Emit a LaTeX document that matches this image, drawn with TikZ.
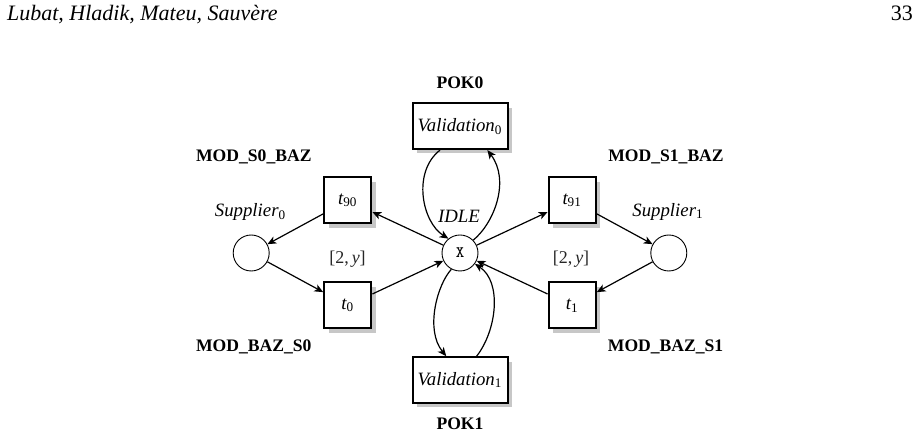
\documentclass[tikz,border=0pt]{standalone}
\usepackage{fontspec}
\setmainfont{Liberation Serif}
\usetikzlibrary{arrows.meta,shadows}

% upright index set as a subscript
\newcommand{\lowidx}[1]{\textsubscript{\upshape #1}}

\begin{document}
\begin{tikzpicture}[x=0.5pt,y=-0.5pt,
  trans/.style={draw, line width=1pt, fill=white, inner sep=0pt,
    drop shadow={shadow xshift=2.2pt, shadow yshift=-2.2pt, opacity=1, fill=black!22},
    font=\fontsize{9.4}{11}\selectfont\itshape},
  smallbox/.style={trans, minimum width=23.6pt, minimum height=23pt},
  widebox/.style={trans, minimum width=47.5pt, minimum height=22.8pt},
  placenode/.style={draw, circle, line width=0.45pt, minimum size=18pt, inner sep=0pt,
    font=\fontsize{8}{9}\selectfont\ttfamily},
  flow/.style={line width=0.6pt, -{Stealth[length=4.4pt, width=3.8pt, inset=1.2pt]}},
  lab/.style={anchor=base, inner sep=0pt, font=\fontsize{8.8}{10}\selectfont\bfseries},
  ilab/.style={anchor=base, inner sep=0pt, font=\fontsize{9.4}{11}\selectfont\itshape},
  wlab/.style={anchor=base, inner sep=0pt, font=\fontsize{9}{11}\selectfont, text=black!85},
]
\useasboundingbox (0,0) rectangle (918,437);

% running head
\node[anchor=base west, inner sep=0pt, font=\fontsize{11}{13}\selectfont\itshape]
  (hdr) at (6.7,20.7) {Lubat, Hladik, Mateu, Sauvère};
\node[anchor=base east, inner sep=0pt, font=\fontsize{11}{13}\selectfont]
  (pg) at (913.3,20.7) {33};

% places
\node[placenode] (x)  at (460,253)   {X};
\node[placenode] (s0) at (251.2,253) {};
\node[placenode] (s1) at (668.8,253) {};

% transitions
\node[widebox]  (val0) at (460,126.3) {Validation\lowidx{0}};
\node[widebox]  (val1) at (460,380)   {Validation\lowidx{1}};
\node[smallbox] (t90)  at (347.8,200.5) {t\lowidx{90}};
\node[smallbox] (t91)  at (572.2,200.5) {t\lowidx{91}};
\node[smallbox] (t0)   at (347.8,305.5) {t\lowidx{0}};
\node[smallbox] (t1)   at (572.2,305.5) {t\lowidx{1}};

% transition names
\node[lab] (lpok0) at (460,88.3)  {POK0};
\node[lab] (lpok1) at (460,430)   {POK1};
\node[lab] (ls0b)  at (253.8,162) {MOD\_S0\_BAZ};
\node[lab] (ls1b)  at (666,162)   {MOD\_S1\_BAZ};
\node[lab] (lbs0)  at (253.8,352) {MOD\_BAZ\_S0};
\node[lab] (lbs1)  at (665.6,352) {MOD\_BAZ\_S1};

% place names and arc weights
\node[ilab] (lsup0) at (250.5,216.5) {Supplier\lowidx{0}};
\node[ilab] (lsup1) at (668,216.5)   {Supplier\lowidx{1}};
\node[ilab] (lidle) at (459,222.5)   {IDLE};
\node[wlab] (w0) at (347.5,264) {[2,\,\textit{y}]};
\node[wlab] (w1) at (571,264)   {[2,\,\textit{y}]};

% arcs of the left branch
\draw[flow] (t90) -- (s0);
\draw[flow] (x) -- (t90);
\draw[flow] (s0) -- (t0);
\draw[flow] (t0) -- (x);

% arcs of the right branch
\draw[flow] (x) -- (t91);
\draw[flow] (t91) -- (s1);
\draw[flow] (s1) -- (t1);
\draw[flow] (t1) -- (x);

% validation loops
\draw[flow] (val0.230) .. controls (412,172) and (422,222) .. (x.129);
\draw[flow] (x.44) .. controls (495,222) and (510,180) .. (val0.319);
\draw[flow] (x.242) .. controls (437,285) and (425,330) .. (val1.120);
\draw[flow] (val1.55) .. controls (497,330) and (502,282) .. (x.324);
\end{tikzpicture}
\end{document}
